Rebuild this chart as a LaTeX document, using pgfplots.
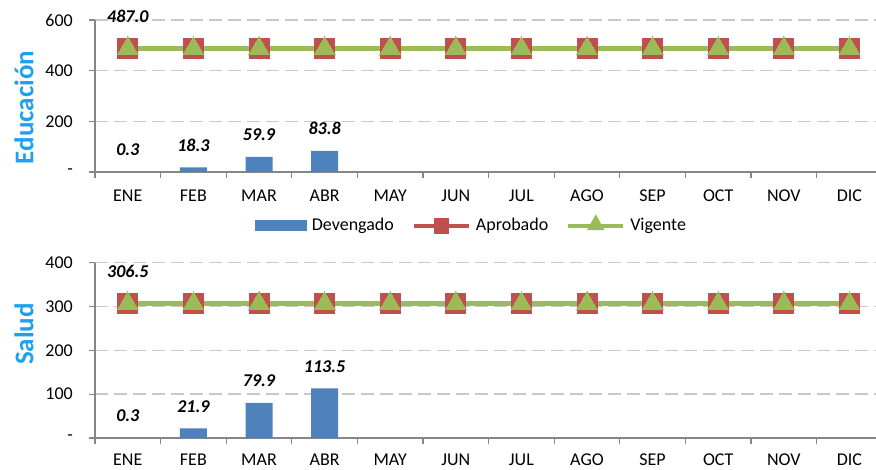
\documentclass[border=0pt]{standalone}
\usepackage{pgfplots}
\pgfplotsset{compat=1.18}
\usepackage{fontspec}
\setmainfont{Carlito}
\definecolor{dev}{HTML}{4F81BD}
\definecolor{apr}{HTML}{C0504D}
\definecolor{vig}{HTML}{9BBB59}
\definecolor{gridc}{HTML}{C8C8C8}
\definecolor{axc}{HTML}{868686}
\definecolor{lab}{HTML}{1EA0F0}

\pgfplotsset{
  mes/.style={
    scale only axis, width=781pt,
    xmin=-0.5, xmax=11.405,
    axis lines=left, axis line style={-, draw=axc, line width=1.3pt},
    tick align=outside, major tick length=6pt,
    tick style={draw=axc, line width=1.3pt},
    xtick={-0.5,0.5,...,11.5}, xticklabels={},
    extra x ticks={0,...,11},
    extra x tick labels={ENE,FEB,MAR,ABR,MAY,JUN,JUL,AGO,SEP,OCT,NOV,DIC},
    extra x tick style={major tick length=0pt, tick label style={inner sep=1pt, yshift=-17pt}},
    yticklabel style={xshift=-10pt},
    ymajorgrids, grid style={gridc, line width=1.5pt, dash pattern=on 13pt off 6pt},
    ylabel style={font=\fontsize{27}{30}\selectfont\bfseries, text=lab, anchor=center},
    /pgf/number format/assume math mode=true,
    clip=false,
  },
  barra/.style={ybar, bar width=27pt, fill=dev, draw=none, bar shift=0pt,
    nodes near coords={\pgfmathprintnumber[fixed,fixed zerofill,precision=1]{\pgfplotspointmeta}},
    nodes near coords style={anchor=center, yshift=22pt, font=\bfseries\itshape, text=black},
    legend image code/.code={\fill[dev] (0pt,-5.5pt) rectangle (52pt,5.5pt);}},
  aprob/.style={apr, line width=5.5pt, mark=square*, mark size=10pt,
    mark options={fill=apr, draw=apr, line width=0pt},
    legend image code/.code={\draw[apr, line width=4pt] (0pt,0pt) -- (55pt,0pt);
      \fill[apr] (23pt,-5.5pt) rectangle (32pt,5.5pt);}},
  vigen/.style={vig, line width=4.5pt, mark=triangle*, mark size=12pt,
    mark options={fill=vig, draw=vig, line width=0pt},
    legend image code/.code={\draw[vig, line width=4pt] (0pt,0pt) -- (55pt,0pt);
      \fill[vig] (22.5pt,-2pt) -- (32.5pt,-2pt) -- (27.5pt,7pt) -- cycle;}},
}

\begin{document}
\fontsize{18}{21}\selectfont
\begin{tikzpicture}
\begin{axis}[mes,
  at={(95pt,-172pt)}, anchor=south west, height=152pt,
  ymin=0, ymax=600, ytick={0,200,400,600}, yticklabels={-,200,400,600},
  ylabel={Educación}, ylabel style={at={(axis description cs:-0.091,0.424)}},
  legend style={at={(axis description cs:0.482,-0.355)}, anchor=center, draw=none,
    fill=none, font=\fontsize{18}{21}\selectfont,
    /tikz/every odd column/.append style={column sep=3pt},
    /tikz/every even column/.append style={column sep=16pt}},
  legend columns=3, legend cell align=left,
]
\addplot[barra] coordinates {(0,0.3) (1,18.3) (2,59.9) (3,83.8)};
\addlegendentry{Devengado}
\addplot[aprob] coordinates {(0,487.0) (1,487.0) (2,487.0) (3,487.0) (4,487.0) (5,487.0)
  (6,487.0) (7,487.0) (8,487.0) (9,487.0) (10,487.0) (11,487.0)};
\addlegendentry{Aprobado}
\addplot[vigen] coordinates {(0,487.0) (1,487.0) (2,487.0) (3,487.0) (4,487.0) (5,487.0)
  (6,487.0) (7,487.0) (8,487.0) (9,487.0) (10,487.0) (11,487.0)};
\addlegendentry{Vigente}
\node[font=\bfseries\itshape] at (axis cs:0,487.0) [yshift=32pt] {487.0};
\end{axis}

\begin{axis}[mes,
  at={(95pt,-438pt)}, anchor=south west, height=175.3pt,
  ymin=0, ymax=400, ytick={0,100,200,300,400}, yticklabels={-,100,200,300,400},
  ylabel={Salud}, ylabel style={at={(axis description cs:-0.091,0.593)}},
  extra x tick style={tick label style={yshift=2pt}},
]
\addplot[barra] coordinates {(0,0.3) (1,21.9) (2,79.9) (3,113.5)};
\addplot[aprob] coordinates {(0,306.5) (1,306.5) (2,306.5) (3,306.5) (4,306.5) (5,306.5)
  (6,306.5) (7,306.5) (8,306.5) (9,306.5) (10,306.5) (11,306.5)};
\addplot[vigen] coordinates {(0,306.5) (1,306.5) (2,306.5) (3,306.5) (4,306.5) (5,306.5)
  (6,306.5) (7,306.5) (8,306.5) (9,306.5) (10,306.5) (11,306.5)};
\node[font=\bfseries\itshape] at (axis cs:0,306.5) [yshift=32pt] {306.5};
\end{axis}
\pgfresetboundingbox
\useasboundingbox (0pt,0pt) rectangle (876pt,-470pt);
\end{tikzpicture}
\end{document}
